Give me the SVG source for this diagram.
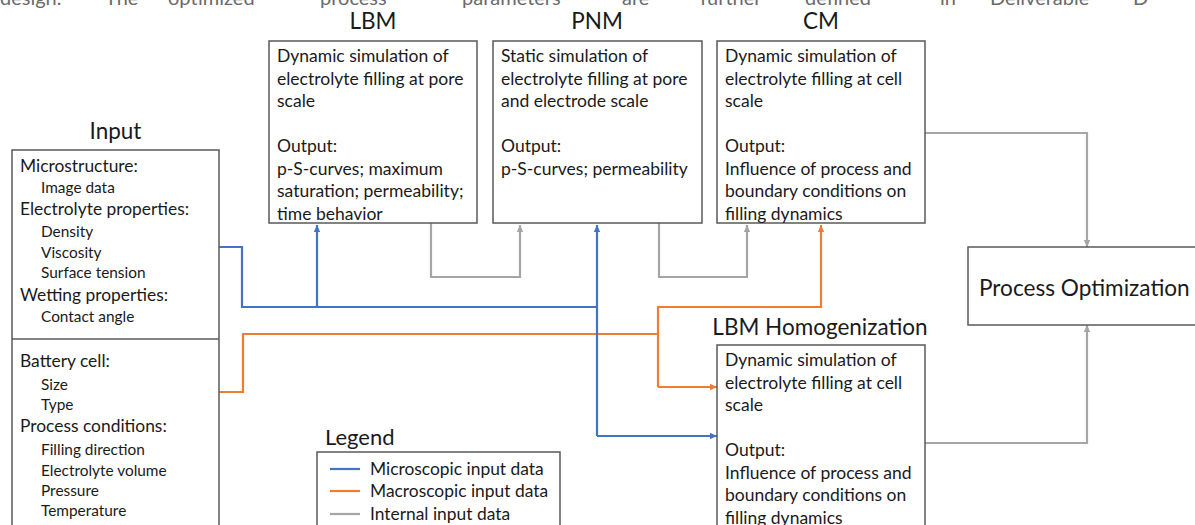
<svg xmlns="http://www.w3.org/2000/svg" width="1195" height="525" viewBox="0 0 1195 525">
<defs>
<style>
text{font-family:Lato,"Open Sans","Liberation Sans",sans-serif;fill:#1a1a1a}
.top{font-size:20px;fill:#6a6a6a}
.title{font-size:22.5px;text-anchor:middle}
.bt{font-size:17.5px}
.hd{font-size:17.4px}
.sub{font-size:15.4px}
.lg{font-size:17.4px}
.box{fill:#fff;stroke:#5a5a5a;stroke-width:1.5}
.blue{fill:none;stroke:#4472C4;stroke-width:2.2}
.orange{fill:none;stroke:#ED7D31;stroke-width:2.2}
.grey{fill:none;stroke:#A5A5A5;stroke-width:2.2}
</style>
<marker id="ab" markerUnits="userSpaceOnUse" markerWidth="8" markerHeight="8" refX="7" refY="4" orient="auto"><path d="M0,0.8 L7,4 L0,7.2 z" fill="#4472C4"/></marker>
<marker id="ao" markerUnits="userSpaceOnUse" markerWidth="8" markerHeight="8" refX="7" refY="4" orient="auto"><path d="M0,0.8 L7,4 L0,7.2 z" fill="#ED7D31"/></marker>
<marker id="ag" markerUnits="userSpaceOnUse" markerWidth="8" markerHeight="8" refX="7" refY="4" orient="auto"><path d="M0,0.8 L7,4 L0,7.2 z" fill="#A5A5A5"/></marker>
</defs>
<rect width="1195" height="525" fill="#fff"/>
<text class="top" y="5"><tspan x="0">design.</tspan><tspan x="105">The</tspan><tspan x="168">optimized</tspan><tspan x="320">process</tspan><tspan x="462">parameters</tspan><tspan x="622">are</tspan><tspan x="700">further</tspan><tspan x="805">defined</tspan><tspan x="940">in</tspan><tspan x="990">Deliverable</tspan><tspan x="1133">D</tspan></text>

<g id="connectors">
<path class="grey" d="M431,223 V277 H520 V225" marker-end="url(#ag)"/>
<path class="grey" d="M659,223 V277 H747 V225" marker-end="url(#ag)"/>
<path class="grey" d="M925,133 H1087 V247" marker-end="url(#ag)"/>
<path class="grey" d="M925,443 H1087 V325" marker-end="url(#ag)"/>
<path class="orange" d="M219,392 H243 V334 H658"/>
<path class="orange" d="M658,387 V307 H821 V225" marker-end="url(#ao)"/>
<path class="orange" d="M658,387 H717" marker-end="url(#ao)"/>
<path class="blue" d="M219,247 H242 V307 H597"/>
<path class="blue" d="M317,307 V225" marker-end="url(#ab)"/>
<path class="blue" d="M597,436 V225" marker-end="url(#ab)"/>
<path class="blue" d="M597,436 H717" marker-end="url(#ab)"/>
</g>

<g id="input">
<text class="title" x="115.5" y="139">Input</text>
<rect class="box" x="12" y="150" width="207" height="400"/>
<line x1="12" y1="339" x2="219" y2="339" stroke="#5a5a5a" stroke-width="1.5"/>
<text class="hd" x="20" y="172">Microstructure:</text>
<text class="sub" x="41" y="193">Image data</text>
<text class="hd" x="20" y="215">Electrolyte properties:</text>
<text class="sub" x="41" y="237">Density</text>
<text class="sub" x="41" y="257.5">Viscosity</text>
<text class="sub" x="41" y="278">Surface tension</text>
<text class="hd" x="20" y="300.5">Wetting properties:</text>
<text class="sub" x="41" y="322">Contact angle</text>
<text class="hd" x="20" y="367">Battery cell:</text>
<text class="sub" x="41" y="389.5">Size</text>
<text class="sub" x="41" y="410">Type</text>
<text class="hd" x="20" y="432">Process conditions:</text>
<text class="sub" x="41" y="455">Filling direction</text>
<text class="sub" x="41" y="475.5">Electrolyte volume</text>
<text class="sub" x="41" y="496">Pressure</text>
<text class="sub" x="41" y="516">Temperature</text>
</g>

<g id="lbm">
<text class="title" x="373" y="29">LBM</text>
<rect class="box" x="269" y="41" width="208" height="182"/>
<text class="bt"><tspan x="277" y="62">Dynamic simulation of</tspan><tspan x="277" y="84.5">electrolyte filling at pore</tspan><tspan x="277" y="107">scale</tspan><tspan x="277" y="152">Output:</tspan><tspan x="277" y="174.5">p-S-curves; maximum</tspan><tspan x="277" y="197">saturation; permeability;</tspan><tspan x="277" y="219.5">time behavior</tspan></text>
</g>

<g id="pnm">
<text class="title" x="597" y="29">PNM</text>
<rect class="box" x="493" y="41" width="209" height="182"/>
<text class="bt"><tspan x="501" y="62">Static simulation of</tspan><tspan x="501" y="84.5">electrolyte filling at pore</tspan><tspan x="501" y="107">and electrode scale</tspan><tspan x="501" y="152">Output:</tspan><tspan x="501" y="174.5">p-S-curves; permeability</tspan></text>
</g>

<g id="cm">
<text class="title" x="821" y="29">CM</text>
<rect class="box" x="717" y="41" width="208" height="182"/>
<text class="bt"><tspan x="725" y="62">Dynamic simulation of</tspan><tspan x="725" y="84.5">electrolyte filling at cell</tspan><tspan x="725" y="107">scale</tspan><tspan x="725" y="152">Output:</tspan><tspan x="725" y="174.5">Influence of process and</tspan><tspan x="725" y="197">boundary conditions on</tspan><tspan x="725" y="219.5">filling dynamics</tspan></text>
</g>

<g id="lbm-homogenization">
<text class="title" x="820" y="335">LBM Homogenization</text>
<rect class="box" x="717" y="345" width="208" height="200"/>
<text class="bt"><tspan x="725" y="366">Dynamic simulation of</tspan><tspan x="725" y="388.5">electrolyte filling at cell</tspan><tspan x="725" y="411">scale</tspan><tspan x="725" y="456">Output:</tspan><tspan x="725" y="478.5">Influence of process and</tspan><tspan x="725" y="501">boundary conditions on</tspan><tspan x="725" y="523.5">filling dynamics</tspan></text>
</g>

<g id="process-optimization">
<rect class="box" x="968" y="247" width="240" height="78"/>
<text x="979" y="296" style="font-size:22.6px">Process Optimization</text>
</g>

<g id="legend">
<text x="325" y="445" style="font-size:22px">Legend</text>
<rect class="box" x="317" y="452" width="243" height="100"/>
<line class="blue" x1="330" y1="469" x2="360" y2="469"/>
<line class="orange" x1="330" y1="491" x2="360" y2="491"/>
<line class="grey" x1="330" y1="514" x2="360" y2="514"/>
<text class="lg" x="370" y="475">Microscopic input data</text>
<text class="lg" x="370" y="497">Macroscopic input data</text>
<text class="lg" x="370" y="520">Internal input data</text>
</g>
</svg>
